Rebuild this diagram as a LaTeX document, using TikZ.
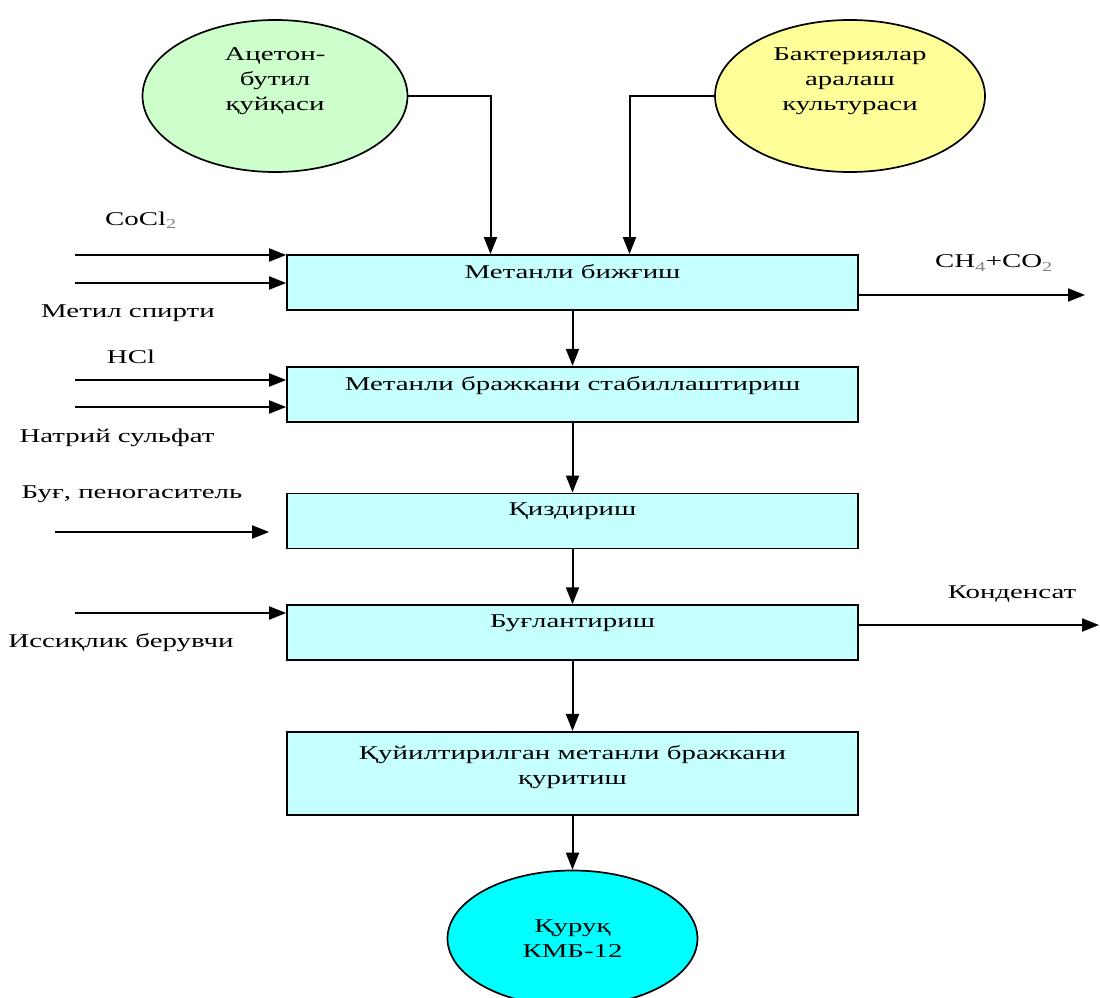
\documentclass[tikz,border=0pt]{standalone}
\usepackage{fontspec}
\setmainfont{Liberation Serif}[FakeStretch=1.48]
\usetikzlibrary{shapes.geometric, positioning, arrows.meta}
\definecolor{stagecyan}{HTML}{C6FFFF}
\definecolor{poolgreen}{HTML}{CCFFCC}
\definecolor{poolyellow}{HTML}{FFFF99}
\definecolor{poolcyan}{HTML}{00FFFF}
\tikzset{
	stage/.style={
		draw,
		fill=stagecyan,
		line width=1.7pt,
		inner sep=0pt,
		minimum width=571pt,
		minimum height=55pt
	},
	pool/.style={
		draw,
		ellipse,
		line width=1.7pt,
		inner sep=0pt
	},
	flow/.style={
		line width=2pt,
		-{Triangle[length=17pt,width=13pt]}
	},
	caption/.style={
		inner sep=0pt,
		align=center,
		font=\fontsize{19.5}{25}\selectfont
	}
}

\begin{document}
\begin{tikzpicture}[x=1pt, y=-1pt]
	\useasboundingbox (0,0) rectangle (1100,998);

	% raw materials
	\node[pool, fill=poolgreen, minimum width=265pt, minimum height=152pt] (acetone) at (275,96) {};
	\node[pool, fill=poolyellow, minimum width=270pt, minimum height=152pt] (bacteria) at (850,96) {};
	\node[caption] (acetonedesc) at (275,81) {Ацетон-\\бутил\\қуйқаси};
	\node[caption] (bacteriadesc) at (850,81) {Бактериялар\\аралаш\\культураси};

	% process stages
	\begin{scope}[node distance=55pt]
	\node[stage] (ferment) at (572.5,282.5) {};
	\node[stage, below=of ferment] (stabil) {};
	\node[stage, below=70pt of stabil] (heat) {};
	\node[stage, below=of heat] (evap) {};
	\node[stage, below=70pt of evap, minimum height=83pt] (dry) {};
	\node[pool, fill=poolcyan, minimum width=250pt, minimum height=136pt, below=54pt of dry] (product) {};
	\end{scope}

	% stage descriptions
	\begin{scope}[node distance=10pt]
	\node[caption, below=of ferment.north] (fermentdesc) {Метанли бижғиш};
	\node[caption, below=of stabil.north] (stabildesc) {Метанли бражкани стабиллаштириш};
	\node[caption, below=of heat.north] (heatdesc) {Қиздириш};
	\node[caption, below=of evap.north] (evapdesc) {Буғлантириш};
	\node[caption, below=14pt of dry.north] (drydesc) {Қуйилтирилган метанли бражкани\\қуритиш};
	\end{scope}
	\node[caption] (productdesc) at (product) {Қуруқ\\КМБ-12};

	% feeds into fermentation
	\draw[flow] (acetone.east) -| ([xshift=-82pt]ferment.north);
	\draw[flow] (bacteria.west) -| ([xshift=57pt]ferment.north);

	% main line
	\foreach \from/\to in {ferment/stabil, stabil/heat, heat/evap, evap/dry, dry/product} {
		\draw[flow] (\from.south) -- (\to.north);
	}

	% side inputs
	\coordinate (cocl) at (75,255);
	\coordinate (methanol) at (75,283);
	\coordinate (hcl) at (75,380);
	\coordinate (sulfate) at (75,407);
	\coordinate (steam) at (55,532);
	\coordinate (heater) at (75,613);
	\draw[flow] (cocl) -- (cocl -| ferment.west);
	\draw[flow] (methanol) -- (methanol -| ferment.west);
	\draw[flow] (hcl) -- (hcl -| stabil.west);
	\draw[flow] (sulfate) -- (sulfate -| stabil.west);
	\draw[flow] (steam) -- ([xshift=-17pt]steam -| heat.west);
	\draw[flow] (heater) -- (heater -| evap.west);

	\node[caption] (cocldesc) at (141,220) {CoCl\textsubscript{\color{gray}2}};
	\node[caption] (methanoldesc) at (128,313) {Метил спирти};
	\node[caption] (hcldesc) at (131,357) {HCl};
	\node[caption] (sulfatedesc) at (117,438) {Натрий сульфат};
	\node[caption] (steamdesc) at (132,494) {Буғ, пеногаситель};
	\node[caption] (heaterdesc) at (121,643) {Иссиқлик берувчи};

	% outputs
	\coordinate (gas) at (1085,295);
	\coordinate (condensate) at (1099,625);
	\draw[flow] (gas -| ferment.east) -- (gas);
	\draw[flow] (condensate -| evap.east) -- (condensate);
	\node[caption] (gasdesc) at (994,263) {CH\textsubscript{\color{gray}4}+CO\textsubscript{\color{gray}2}};
	\node[caption] (condensatedesc) at (1012,594) {Конденсат};
\end{tikzpicture}
\end{document}
